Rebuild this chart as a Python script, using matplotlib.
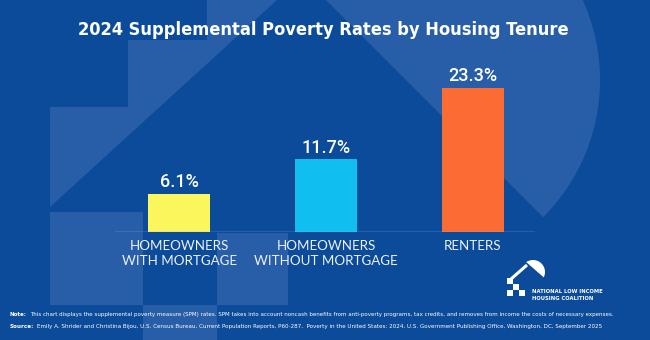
import matplotlib
matplotlib.use("Agg")
import matplotlib.pyplot as plt
from matplotlib.patches import Polygon, Circle, Rectangle
import numpy as np

# data
categories = ["HOMEOWNERS\nWITH MORTGAGE", "HOMEOWNERS\nWITHOUT MORTGAGE", "RENTERS"]
rates = [6.1, 11.7, 23.3]
bar_colors = ["#faf65b", "#10bff0", "#fb6c34"]

title = "2024 Supplemental Poverty Rates by Housing Tenure"
note_lbl = "Note:"
note = "This chart displays the supplemental poverty measure (SPM) rates. SPM takes into account noncash benefits from anti-poverty programs, tax credits, and removes from income the costs of necessary expenses."
src_lbl = "Source:"
source = "Emily A. Shrider and Christina Bijou, U.S. Census Bureau, Current Population Reports, P60-287,  Poverty in the United States: 2024, U.S. Government Publishing Office, Washington, DC, September 2025"
org = ["NATIONAL LOW INCOME", "HOUSING COALITION"]

BG = "#0b4b9a"
LIGHT = "#275ea7"

W, H = 650, 340
fig = plt.figure(figsize=(6.5, 3.4), dpi=100)
fig.patch.set_facecolor(BG)

# background layer, pixel coords with y going down
bg = fig.add_axes([0, 0, 1, 1])
bg.set_xlim(0, W)
bg.set_ylim(H, 0)
bg.axis("off")

# big faded logo: stepped block on the left, sun on the right
stairs = [(207, 0), (277, 0), (50, 207), (50, 107), (128, 107), (128, 40), (207, 40)]
bg.add_patch(Polygon(stairs, closed=True, color=LIGHT, lw=0))
sun = Circle((406, 80), 194, color=LIGHT, lw=0)
bg.add_patch(sun)
clip = Polygon([(306, -20), (1000, 674), (1000, -20)], closed=True, transform=bg.transData)
sun.set_clip_path(clip)
for (x0, y0, w, h) in [(50, 212, 93, 93), (217, 233, 71, 72), (143, 305, 74, 40)]:
    bg.add_patch(Rectangle((x0, y0), w, h, color=LIGHT, lw=0))

# small logo bottom right
s = Circle((533, 272), 12, color="white", lw=0)
bg.add_patch(s)
s.set_clip_path(Polygon([(518, 255), (556, 288), (556, 250), (518, 250)], closed=True,
                        transform=bg.transData))
bg.plot([511, 527], [279, 265], color="white", lw=2.2, solid_capstyle="butt")
for (x0, y0) in [(507, 278), (513, 284), (507, 290), (519, 290)]:
    bg.add_patch(Rectangle((x0, y0), 6, 6, color="white", lw=0))

# bar chart
ax = fig.add_axes([115 / W, (H - 232) / H, 420 / W, 172 / H])
ax.patch.set_alpha(0)
x = np.arange(len(rates))
ax.bar(x, rates, width=0.4225, color=bar_colors, zorder=2)
ax.set_xlim(-0.4395, 2.4225)
ax.set_ylim(0, 172 / 6.2)
ax.axhline(0, color="#8fb5e4", lw=1, zorder=3)
for sp in ax.spines.values():
    sp.set_visible(False)
ax.set_yticks([])
ax.set_xticks(x)
ax.set_xticklabels(categories, fontsize=9.6, color="#eef2fa", family="Lato",
                   linespacing=1.25)
ax.tick_params(axis="x", length=0, pad=6)

for xi, v in zip(x, rates):
    ax.annotate(f"{v}%", (xi, v), xytext=(0, 5), textcoords="offset points",
                ha="center", va="baseline", fontsize=13, color="white",
                family="Roboto", fontweight="medium")

r = fig.canvas.get_renderer()


def fit(t, target):
    w = t.get_window_extent(r).width
    t.set_fontsize(t.get_fontsize() * target / w)


t = fig.text(323 / W, 1 - 35 / H, title, ha="center", va="baseline", color="white",
             fontsize=16, fontweight="bold", family="DejaVu Sans", stretch="condensed")
fit(t, 490)


def footline(lbl, body, y, right):
    a = fig.text(10 / W, 1 - y / H, lbl, color="white", fontsize=5, fontweight="bold",
                 family="DejaVu Sans", stretch="condensed", va="baseline")
    b = fig.text(0, 1 - y / H, body, color="white", fontsize=5, family="DejaVu Sans",
                 stretch="condensed", va="baseline")
    for _ in range(3):
        wa = a.get_window_extent(r).width
        b.set_x((10 + wa + 3) / W)
        end = b.get_window_extent(r).x1
        k = (right - 10) / (end - 10)
        a.set_fontsize(a.get_fontsize() * k)
        b.set_fontsize(b.get_fontsize() * k)
    wa = a.get_window_extent(r).width
    b.set_x((10 + wa + 3) / W)


footline(note_lbl, note, 316, 612)
footline(src_lbl, source, 328, 603)

for line, y in zip(org, [293, 300]):
    t = fig.text(532 / W, 1 - y / H, line, color="white", fontsize=5, fontweight="bold",
                 family="DejaVu Sans", va="baseline")
o = fig.texts[-2]
w0 = o.get_window_extent(r).width
for t in fig.texts[-2:]:
    t.set_fontsize(t.get_fontsize() * 71 / w0)

fig.savefig("out.png", dpi=100, facecolor=BG)
